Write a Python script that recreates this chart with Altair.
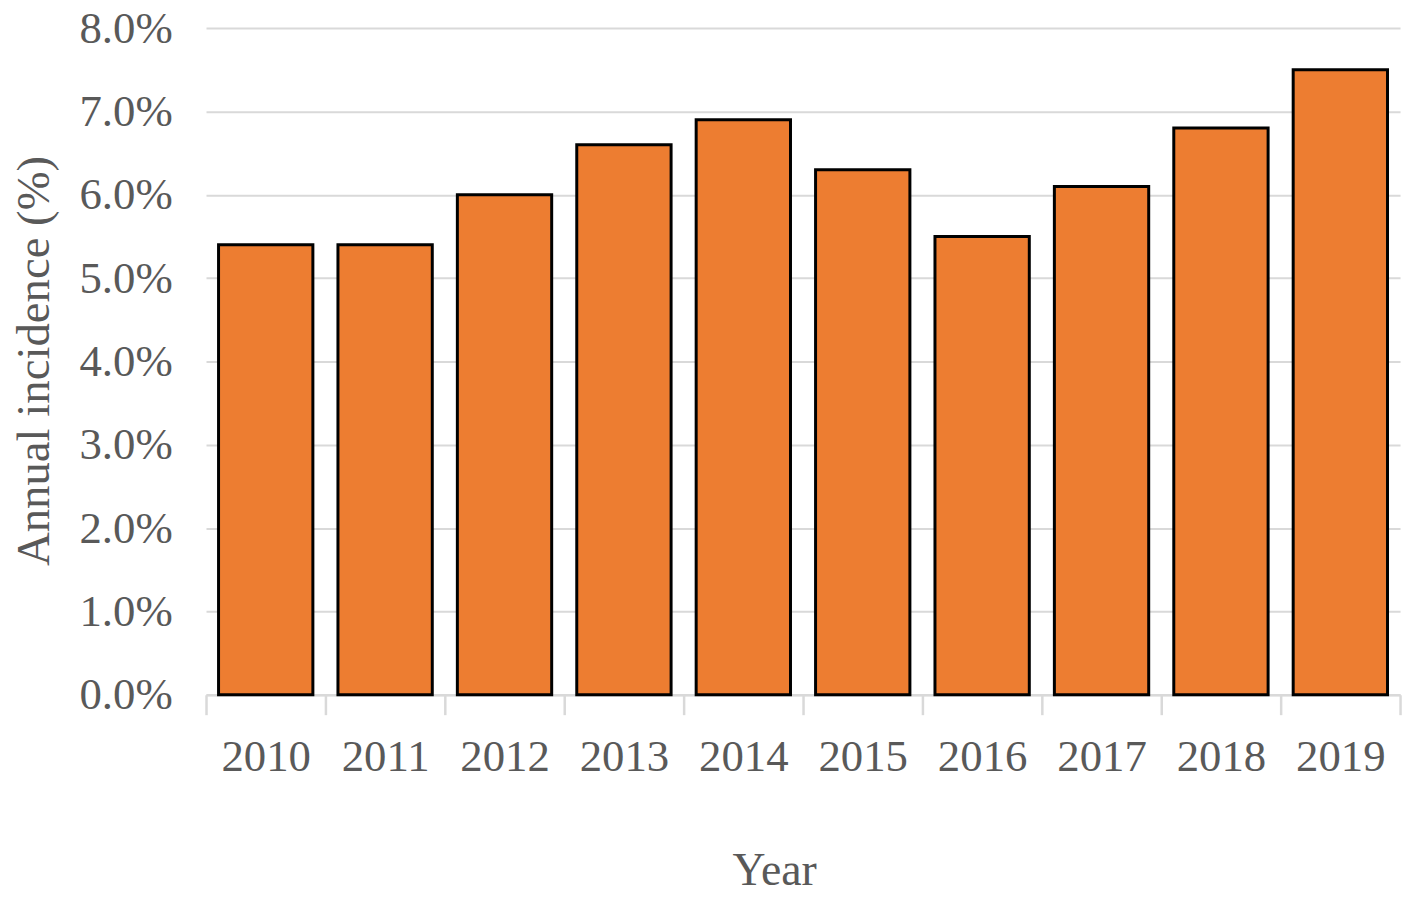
import altair as alt
import pandas as pd

years = ["2010", "2011", "2012", "2013", "2014", "2015", "2016", "2017", "2018", "2019"]
incidence = [0.054, 0.054, 0.060, 0.066, 0.069, 0.063, 0.055, 0.061, 0.068, 0.075]

df = pd.DataFrame({"Year": years, "Incidence": incidence})

FONT = "Liberation Serif"
GRAY = "#595959"
LINE = "#d9d9d9"

chart = alt.Chart(df).mark_bar(
    color="#ED7D31", stroke="black", strokeWidth=3, width={"band": 0.79}
).encode(
    x=alt.X(
        "Year:N",
        sort=years,
        scale=alt.Scale(paddingInner=0, paddingOuter=0),
        axis=alt.Axis(
            title="Year",
            labelAngle=0,
            labelFont=FONT, labelFontSize=45, labelColor=GRAY,
            labelPadding=20,
            tickBand="extent", tickSize=20, tickColor=LINE, tickWidth=2.5,
            domainColor=LINE, domainWidth=2.5,
            titleFont=FONT, titleFontSize=46, titleColor=GRAY, titleFontWeight="normal",
            titleX=571, titleY=177, titleBaseline="middle", titleAnchor="middle",
            titleAlign="center",
        ),
    ),
    y=alt.Y(
        "Incidence:Q",
        scale=alt.Scale(domain=[0, 0.08]),
        axis=alt.Axis(
            title="Annual incidence (%)",
            format=".1%",
            values=[0, 0.01, 0.02, 0.03, 0.04, 0.05, 0.06, 0.07, 0.08],
            labelFont=FONT, labelFontSize=45, labelColor=GRAY,
            labelPadding=34,
            ticks=False, domain=False,
            grid=True, gridColor=LINE, gridWidth=2,
            titleFont=FONT, titleFontSize=47, titleColor=GRAY, titleFontWeight="normal",
            titleX=-172, titleY=334, titleBaseline="middle", titleAngle=-90,
            titleAlign="center",
        ),
    ),
).properties(
    width=1200, height=670,
    autosize=alt.AutoSizeParams(type="none"),
    padding={"left": 199, "top": 18, "right": 10, "bottom": 196},
).configure_view(stroke=None)

chart.save("out.html", embed_options={"renderer": "svg", "actions": False})
